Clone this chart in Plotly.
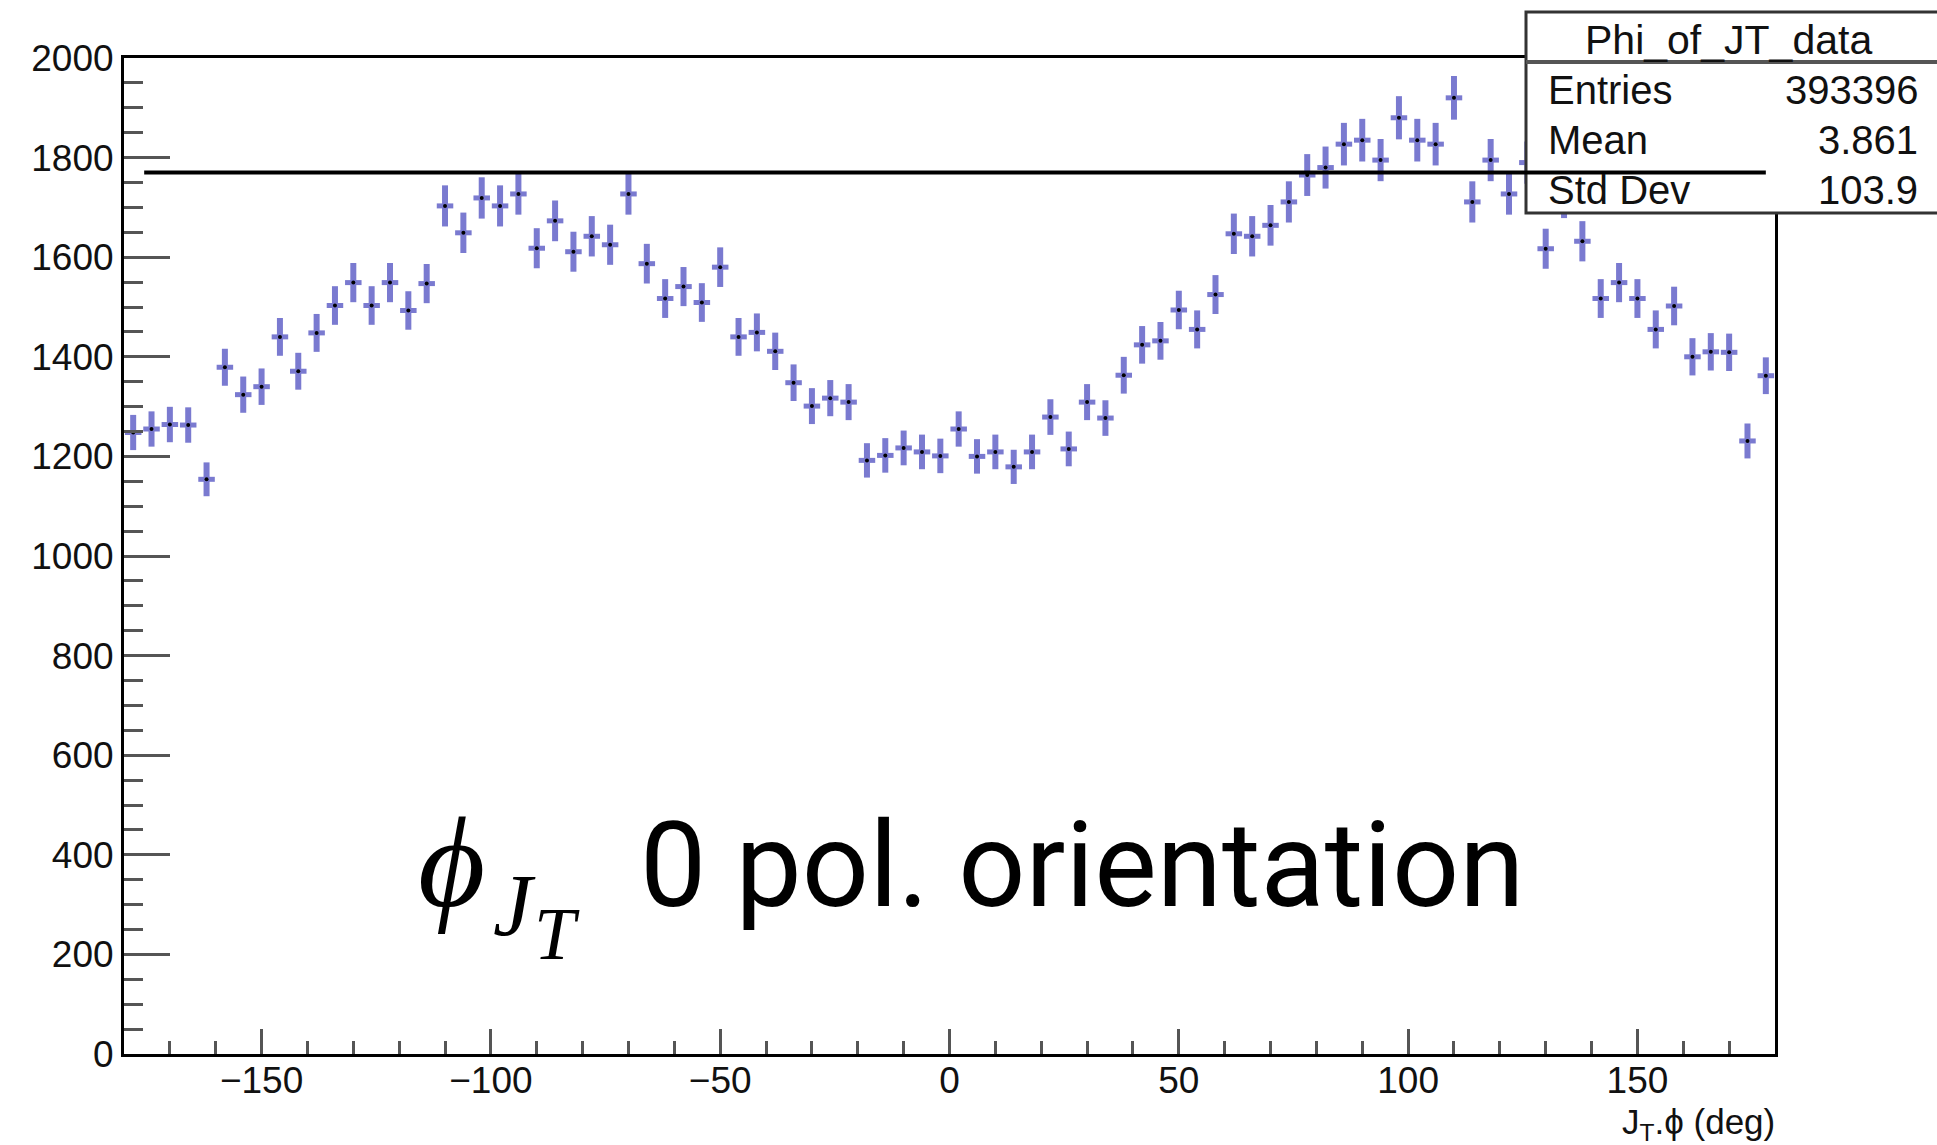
import numpy as np
import plotly.graph_objects as go

# ---------------- data ----------------
BIN_LOW = -180.0
BIN_HIGH = 180.0
N_BINS = 90

counts = [
    1248, 1255, 1264, 1263, 1154, 1379, 1324, 1340, 1440, 1371,
    1448, 1503, 1549, 1503, 1549, 1493, 1547, 1703, 1649, 1719,
    1703, 1727, 1618, 1673, 1611, 1642, 1625, 1727, 1587, 1517,
    1541, 1509, 1580, 1440, 1449, 1411, 1348, 1301, 1317, 1309,
    1192, 1202, 1217, 1209, 1201, 1255, 1200, 1209, 1179, 1209,
    1279, 1215, 1309, 1277, 1363, 1424, 1432, 1494, 1455, 1525,
    1647, 1642, 1664, 1711, 1765, 1780, 1827, 1835, 1795, 1880,
    1835, 1827, 1920, 1711, 1795, 1727, 1790, 1617, 1720, 1632,
    1517, 1549, 1517, 1455, 1502, 1400, 1410, 1409, 1231, 1362,
]

FIT_VALUE = 1770.0        # constant fit (pol0)
FIT_X_RANGE = [-175.6, 178.0]

stats_title = "Phi_of_JT_data"
stats_labels = ["Entries", "Mean", "Std Dev"]
stats_values = ["393396", "3.861", "103.9"]

x_title = "J<sub>T</sub>.ϕ (deg)"
overlay_text = "0 pol. orientation"

# ---------------- derived histogram quantities ----------------
bin_width = (BIN_HIGH - BIN_LOW) / N_BINS
edges = np.linspace(BIN_LOW, BIN_HIGH, N_BINS + 1)
centers = 0.5 * (edges[:-1] + edges[1:])
y = np.array(counts, dtype=float)
y_err = np.sqrt(y)                      # Poisson uncertainty per bin
x_err = np.full(N_BINS, 0.45 * bin_width)

# ---------------- layout geometry (pixels) ----------------
W, H = 1937, 1145
L, R, T, B = 124, 1775, 58, 1054


def xp(px):
    return (px - L) / (R - L)


def yp(py):
    return (B - py) / (B - T)


SANS = "Liberation Sans"
BAR = "rgb(122,122,208)"

fig = go.Figure()
fig.add_trace(go.Scatter(
    x=centers, y=y, mode="markers",
    marker=dict(color="black", size=4),
    error_y=dict(type="data", array=y_err, color=BAR, thickness=6, width=0),
    error_x=dict(type="data", array=x_err, color=BAR, thickness=5, width=0),
    showlegend=False, hoverinfo="x+y",
))

axis_common = dict(
    showgrid=False, zeroline=False,
    showline=True, linecolor="black", linewidth=3, mirror=True,
    ticks="inside", tickwidth=3, tickcolor="#555",
    tickfont=dict(family=SANS, size=37, color="#111"),
)

fig.update_xaxes(
    range=[BIN_LOW, BIN_HIGH], dtick=50, tick0=0, ticklen=25,
    ticklabelstandoff=-8,
    minor=dict(dtick=10, tick0=0, ticklen=13, ticks="inside", tickwidth=3, tickcolor="#555"),
    **axis_common,
)
fig.update_yaxes(
    range=[0, 2000], dtick=200, tick0=0, ticklen=46,
    minor=dict(dtick=50, tick0=0, ticklen=19, ticks="inside", tickwidth=3, tickcolor="#555"),
    **axis_common,
)

shapes = [
    # stats box
    dict(type="rect", xref="paper", yref="paper",
         x0=xp(1526), x1=xp(1950), y0=yp(213), y1=yp(12),
         line=dict(color="#333", width=3), fillcolor="white", layer="above"),
    dict(type="line", xref="paper", yref="paper",
         x0=xp(1526), x1=xp(1950), y0=yp(62), y1=yp(62),
         line=dict(color="#555", width=4), layer="above"),
    # constant fit line (drawn over the stats box)
    dict(type="line", xref="x", yref="y",
         x0=FIT_X_RANGE[0], x1=FIT_X_RANGE[1], y0=FIT_VALUE, y1=FIT_VALUE,
         line=dict(color="black", width=4), layer="above"),
]

annotations = [
    dict(text=stats_title, x=xp(1728), y=yp(40), xref="paper", yref="paper",
         xanchor="center", yanchor="middle", showarrow=False,
         font=dict(family=SANS, size=41, color="#111")),
]
row_y = [90, 140, 190]
for lab, val, ry in zip(stats_labels, stats_values, row_y):
    annotations.append(dict(text=lab, x=xp(1546), y=yp(ry), xref="paper", yref="paper",
                            xanchor="left", yanchor="middle", showarrow=False,
                            font=dict(family=SANS, size=40, color="#111")))
    annotations.append(dict(text=val, x=xp(1920), y=yp(ry), xref="paper", yref="paper",
                            xanchor="right", yanchor="middle", showarrow=False,
                            font=dict(family=SANS, size=40, color="#111")))

# x-axis title
annotations.append(dict(text=x_title, x=xp(1777), y=yp(1124), xref="paper", yref="paper",
                        xanchor="right", yanchor="middle", showarrow=False,
                        font=dict(family=SANS, size=35, color="#111")))

# overlay label: phi_{J_T}  0 pol. orientation
SERIF = "Liberation Serif"
annotations += [
    dict(text="<i>ϕ</i>", x=xp(451), y=yp(862), xref="paper", yref="paper",
         xanchor="center", yanchor="middle", showarrow=False,
         font=dict(family=SERIF, size=130, color="black")),
    dict(text="<i>J</i>", x=xp(514), y=yp(905), xref="paper", yref="paper",
         xanchor="center", yanchor="middle", showarrow=False,
         font=dict(family=SERIF, size=88, color="black")),
    dict(text="<i>T</i>", x=xp(557), y=yp(934), xref="paper", yref="paper",
         xanchor="center", yanchor="middle", showarrow=False,
         font=dict(family=SERIF, size=74, color="black")),
    dict(text=overlay_text, x=xp(638), y=yp(866), xref="paper", yref="paper",
         xanchor="left", yanchor="middle", showarrow=False,
         font=dict(family="Roboto", size=118, color="black")),
]

fig.update_layout(
    width=W, height=H,
    margin=dict(l=L, r=W - R, t=T, b=H - B, pad=0),
    paper_bgcolor="white", plot_bgcolor="white",
    shapes=shapes, annotations=annotations,
    showlegend=False,
)

fig.write_html("out.html")
